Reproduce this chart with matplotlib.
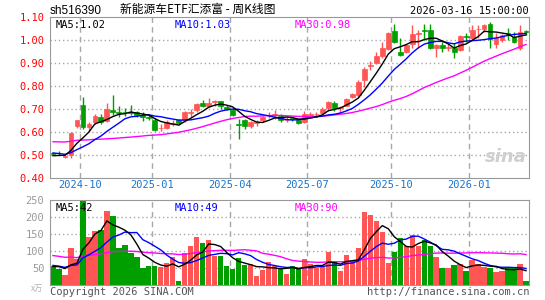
import matplotlib
matplotlib.use("Agg")
import matplotlib.pyplot as plt
import numpy as np

# weekly K-line, sh516390, first bar = week of 2024-09-02, last = week of 2026-03-16
opens = [0.509, 0.510, 0.490, 0.500, 0.626, 0.719, 0.620, 0.644, 0.666, 0.649,
         0.696, 0.686, 0.689, 0.689, 0.685, 0.675, 0.664, 0.653, 0.615, 0.618,
         0.636, 0.651, 0.651, 0.684, 0.697, 0.727, 0.715, 0.731, 0.733, 0.709,
         0.697, 0.634, 0.650, 0.624, 0.640, 0.651, 0.673, 0.674, 0.671, 0.652,
         0.660, 0.651, 0.644, 0.675, 0.677, 0.682, 0.703, 0.726, 0.706, 0.715,
         0.751, 0.759, 0.825, 0.889, 0.899, 0.932, 0.960, 1.041, 0.947, 0.947,
         0.984, 1.029, 1.045, 1.043, 0.965, 0.978, 0.967, 0.965, 0.956, 1.018,
         1.009, 1.049, 1.050, 1.071, 0.984, 1.001, 1.033, 1.016, 0.968, 1.040]
highs = [0.514, 0.517, 0.497, 0.598, 0.653, 0.751, 0.645, 0.678, 0.676, 0.726,
         0.763, 0.715, 0.705, 0.718, 0.692, 0.685, 0.674, 0.662, 0.634, 0.653,
         0.651, 0.655, 0.693, 0.700, 0.727, 0.741, 0.747, 0.738, 0.737, 0.718,
         0.703, 0.655, 0.656, 0.649, 0.650, 0.671, 0.688, 0.697, 0.676, 0.663,
         0.667, 0.656, 0.691, 0.688, 0.688, 0.707, 0.737, 0.737, 0.715, 0.747,
         0.771, 0.828, 0.884, 0.909, 0.950, 0.991, 1.038, 1.071, 1.009, 0.982,
         1.068, 1.046, 1.071, 1.071, 0.982, 0.991, 0.987, 0.987, 1.024, 1.031,
         1.068, 1.068, 1.071, 1.082, 1.031, 1.026, 1.053, 1.038, 1.068, 1.046]
lows = [0.497, 0.497, 0.488, 0.487, 0.616, 0.612, 0.605, 0.634, 0.634, 0.645,
        0.674, 0.663, 0.668, 0.672, 0.663, 0.649, 0.652, 0.604, 0.604, 0.612,
        0.624, 0.632, 0.644, 0.663, 0.685, 0.707, 0.707, 0.715, 0.700, 0.696,
        0.671, 0.571, 0.612, 0.616, 0.627, 0.644, 0.662, 0.656, 0.644, 0.644,
        0.648, 0.634, 0.637, 0.663, 0.668, 0.678, 0.693, 0.693, 0.682, 0.712,
        0.747, 0.751, 0.796, 0.869, 0.897, 0.921, 0.957, 0.990, 0.932, 0.943,
        0.965, 0.965, 1.001, 0.960, 0.928, 0.947, 0.953, 0.921, 0.953, 0.994,
        1.001, 1.009, 1.035, 0.968, 0.965, 0.994, 1.001, 0.987, 0.957, 1.024]
closes = [0.505, 0.506, 0.493, 0.597, 0.651, 0.622, 0.634, 0.671, 0.644, 0.700,
          0.686, 0.683, 0.685, 0.681, 0.675, 0.666, 0.660, 0.609, 0.618, 0.644,
          0.640, 0.638, 0.688, 0.687, 0.724, 0.712, 0.727, 0.733, 0.712, 0.700,
          0.675, 0.630, 0.624, 0.644, 0.642, 0.666, 0.675, 0.676, 0.653, 0.654,
          0.656, 0.641, 0.676, 0.677, 0.679, 0.700, 0.732, 0.703, 0.708, 0.744,
          0.766, 0.818, 0.876, 0.893, 0.931, 0.965, 1.034, 0.994, 0.935, 0.979,
          1.028, 1.032, 1.041, 0.965, 0.979, 0.968, 0.969, 0.950, 1.019, 1.014,
          1.046, 1.051, 1.068, 1.006, 1.009, 1.024, 1.029, 0.991, 1.038, 1.036]
# volume in 万手
volumes = [55, 48, 30, 110, 78, 262, 142, 160, 162, 219,
           204, 108, 117, 93, 82, 50, 55, 55, 53, 65,
           83, 12, 93, 114, 142, 124, 132, 85, 85, 55,
           46, 79, 59, 61, 26, 43, 67, 55, 49, 32,
           55, 47, 76, 61, 49, 55, 97, 67, 40, 88,
           67, 110, 215, 207, 188, 156, 64, 97, 138, 114,
           147, 115, 132, 114, 83, 49, 49, 58, 61, 40,
           73, 63, 53, 49, 38, 40, 49, 49, 61, 12]
# weeks before the first bar (not drawn, only feed the moving averages)
prev_closes = [0.52, 0.51, 0.50, 0.52, 0.60, 0.60, 0.61, 0.62, 0.65, 0.64,
               0.63, 0.62, 0.62, 0.61, 0.59, 0.58, 0.57, 0.56, 0.55, 0.53,
               0.53, 0.53, 0.52, 0.52, 0.50, 0.50, 0.49, 0.49, 0.495]
prev_volumes = [120, 110, 95, 130, 105, 90, 100, 85, 110, 120,
                95, 100, 90, 105, 115, 95, 85, 100, 80, 100,
                70, 65, 55, 60, 55, 50, 58, 55, 55]

month_labels = ["2024-10", "2025-01", "2025-04", "2025-07", "2025-10", "2026-01"]
month_first_bar = [5, 17, 30, 43, 57, 70]

RED = "#ff5555"
GREEN = "#009f00"
GRID = "#a8a8a8"
MONO = "DejaVu Sans Mono"


def moving_avg(prev, vals, n):
    s = np.array(prev + vals, dtype=float)
    out = np.convolve(s, np.ones(n) / n, mode="valid")
    return out[-len(vals):]


x = np.arange(len(closes))
o = np.array(opens)
c = np.array(closes)
up = c >= o
cols = [RED if u else GREEN for u in up]

fig = plt.figure(figsize=(5.45, 3.0), dpi=100)
W, H = 545.0, 300.0
ax = fig.add_axes([50 / W, 1 - 177.7 / H, 479 / W, (177.7 - 17.4) / H])
axv = fig.add_axes([50 / W, 1 - 285 / H, 479 / W, (285 - 200.3) / H])

# ---- price panel
for k in range(len(month_first_bar)):
    ax.axvline(month_first_bar[k] - 0.5, color=GRID, ls=(0, (4, 3)), lw=1, zorder=0)
    axv.axvline(month_first_bar[k] - 0.5, color=GRID, ls=(0, (4, 3)), lw=1, zorder=0)
for yv in np.arange(0.5, 1.05, 0.1):
    ax.axhline(yv, color=GRID, ls=(0, (1, 2)), lw=1, zorder=0)

ax.vlines(x, lows, highs, colors=cols, lw=1, zorder=2)
body_h = np.maximum(np.abs(c - o), 0.0015)
ax.bar(x, body_h, bottom=np.minimum(o, c), width=0.8, color=cols,
       edgecolor=cols, linewidth=0.5, zorder=3)

ma5 = moving_avg(prev_closes, closes, 5)
ma10 = moving_avg(prev_closes, closes, 10)
ma30 = moving_avg(prev_closes, closes, 30)
ax.plot(x, ma30, color="#ff00ff", lw=1, zorder=4)
ax.plot(x, ma10, color="#0000ff", lw=1, zorder=4)
ax.plot(x, ma5, color="black", lw=1, zorder=4)

ax.set_xlim(-0.5, len(closes) - 0.5)
ax.set_ylim(0.40, 1.10)
ax.set_yticks(np.arange(0.4, 1.101, 0.1))
ax.set_yticklabels(["%.2f" % v for v in np.arange(0.4, 1.101, 0.1)],
                   color="#ff0000", fontsize=7.5, family=MONO)
ax.set_xticks([b - 0.5 for b in month_first_bar])
ax.set_xticklabels(month_labels, color="#1475cf", fontsize=7.5, family=MONO)
ax.tick_params(length=0, pad=2)
ax.tick_params(axis="y", pad=4)
for sp in ax.spines.values():
    sp.set_color("#999999")

ax.text(0.012, 0.985, "MA5:%.2f" % ma5[-1], transform=ax.transAxes, ha="left",
        va="top", fontsize=7.5, family=MONO, color="black")
ax.text(0.26, 0.985, "MA10:%.2f" % ma10[-1], transform=ax.transAxes, ha="left",
        va="top", fontsize=7.5, family=MONO, color="#0000ff")
ax.text(0.51, 0.985, "MA30:%.2f" % ma30[-1], transform=ax.transAxes, ha="left",
        va="top", fontsize=7.5, family=MONO, color="#ff00ff")
ax.text(0.995, 0.07, "sina", transform=ax.transAxes, ha="right", va="bottom",
        fontsize=13, style="italic", weight="bold", color="#cfcfcf", zorder=1)

# ---- volume panel
for yv in [50, 100, 150, 200]:
    axv.axhline(yv, color=GRID, ls=(0, (1, 2)), lw=1, zorder=0)
axv.bar(x, volumes, width=0.9, color=cols, zorder=2)
vma5 = moving_avg(prev_volumes, volumes, 5)
vma10 = moving_avg(prev_volumes, volumes, 10)
vma30 = moving_avg(prev_volumes, volumes, 30)
axv.plot(x, vma30, color="#ff00ff", lw=1, zorder=4)
axv.plot(x, vma10, color="#0000ff", lw=1, zorder=4)
axv.plot(x, vma5, color="black", lw=1, zorder=4)
axv.set_xlim(-0.5, len(closes) - 0.5)
axv.set_ylim(0, 250)
axv.set_yticks([50, 100, 150, 200, 250])
axv.set_yticklabels(["50", "100", "150", "200", "250"], color="#9a9a9a",
                    fontsize=7.5, family=MONO)
axv.set_xticks([])
axv.tick_params(length=0, pad=4)
for sp in axv.spines.values():
    sp.set_color("#999999")
axv.text(0.012, 0.97, "MA5:%d" % round(vma5[-1]), transform=axv.transAxes,
         ha="left", va="top", fontsize=7.5, family=MONO, color="black", zorder=5)
axv.text(0.26, 0.97, "MA10:%d" % round(vma10[-1]), transform=axv.transAxes,
         ha="left", va="top", fontsize=7.5, family=MONO, color="#0000ff", zorder=5)
axv.text(0.51, 0.97, "MA30:%d" % round(vma30[-1]), transform=axv.transAxes,
         ha="left", va="top", fontsize=7.5, family=MONO, color="#ff00ff", zorder=5)

# ---- header / footer
fig.text(50 / W, 1 - 11 / H, "sh516390", ha="left", va="center",
         fontsize=8.5, family="Liberation Sans")
fig.text(120 / W, 1 - 9.5 / H, "新能源车ETF汇添富 - 周K线图", ha="left", va="center",
         fontsize=8.5, family=["Noto Sans CJK SC", "DejaVu Sans"])
fig.text(529 / W, 1 - 11.5 / H, "2026-03-16 15:00:00", ha="right", va="center",
         fontsize=7.5, family=MONO)
fig.text(37 / W, 1 - 288 / H, "x万", ha="center", va="center", fontsize=6,
         color="#b0b0b0", family=["Noto Sans CJK SC", "DejaVu Sans"])
fig.text(50 / W, 1 - 292 / H, "Copyright 2026 SINA.COM", ha="left", va="center",
         fontsize=7.5, family=MONO, color="#555555")
fig.text(529 / W, 1 - 292 / H, "http://finance.sina.com.cn", ha="right",
         va="center", fontsize=7.5, family=MONO, color="#555555")

fig.savefig("out.png", dpi=100)
